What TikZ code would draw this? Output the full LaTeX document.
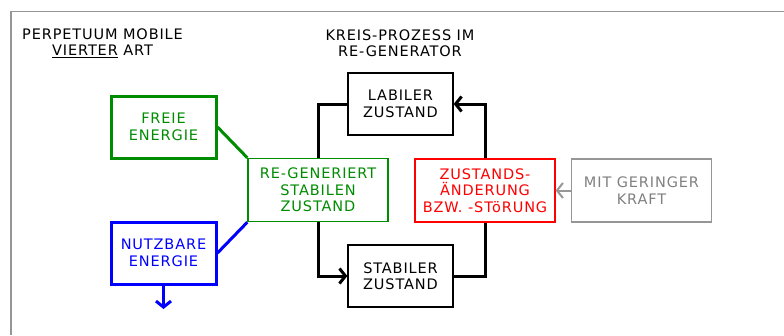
\documentclass[tikz,border=0pt]{standalone}
\usepackage{fontspec}
\setmainfont{DejaVu Sans}[LetterSpace=6]
\usetikzlibrary{arrows.meta}
\tikzset{>={Straight Barb[length=6pt,width=15pt]}}
\definecolor{boxgreen}{RGB}{0,140,0}
\definecolor{boxgray}{RGB}{150,150,150}
\tikzset{
  box/.style={draw,align=center,inner sep=0pt,font=\fontsize{14.5}{16.5}\selectfont},
  bigbox/.style={box,minimum width=105pt,minimum height=62pt},
  widebox/.style={box,minimum width=140pt,minimum height=63pt},
  title/.style={align=center,inner sep=0pt,font=\fontsize{14.5}{16}\selectfont}
}

\begin{document}
\begin{tikzpicture}[x=1pt,y=-1pt]
  \useasboundingbox (0,0) rectangle (784,335);
  % frame
  \draw[boxgray,line width=1.5pt] (11,335) -- (11,11.5) -- (784,11.5);
  % titles
  \node[title] (perp)  at (102.5,43) {PERPETUUM MOBILE\\\underline{VIERTER} ART};
  \node[title] (kreis) at (400,43)   {KREIS-PROZESS IM\\RE-GENERATOR};
  % boxes
  \node[bigbox,line width=1.3pt] (labil)  at (400.5,104) {LABILER\\ZUSTAND};
  \node[bigbox,line width=1.3pt] (stabil) at (400.5,276) {STABILER\\ZUSTAND};
  \node[bigbox,boxgreen,line width=3pt] (freie) at (163.5,127) {FREIE\\ENERGIE};
  \node[bigbox,blue,line width=3pt]     (nutz)  at (163.5,253) {NUTZBARE\\ENERGIE};
  \node[widebox,boxgreen,line width=1.3pt] (regen) at (318,190)
       {RE-GENERIERT\\STABILEN\\ZUSTAND};
  \node[widebox,red,line width=1.3pt] (aend) at (485,190.5)
       {ZUSTANDS-\\ÄNDERUNG\\BZW. -STöRUNG};
  \node[widebox,boxgray,text=gray,line width=1.5pt] (kraft) at (641.5,190.5)
       {MIT GERINGER\\KRAFT};
  \coordinate (out) at (163.5,309);
  % cycle
  \draw[line width=3pt] (regen.north) |- (labil.west);
  \draw[->,line width=3pt] (regen.south) |- (stabil.west);
  \draw[line width=3pt] (stabil.east) -| (aend.south);
  \draw[->,line width=3pt] (aend.north) |- (labil.east);
  \draw[->,boxgray,line width=2pt] (kraft.west) -- (aend.east);
  % energy
  \draw[boxgreen,line width=3pt] (freie.east) -- (regen.north west);
  \draw[blue,line width=3pt] (regen.south west) -- (nutz.east);
  \draw[->,blue,line width=3pt] (nutz.south) -- (out);
\end{tikzpicture}
\end{document}
